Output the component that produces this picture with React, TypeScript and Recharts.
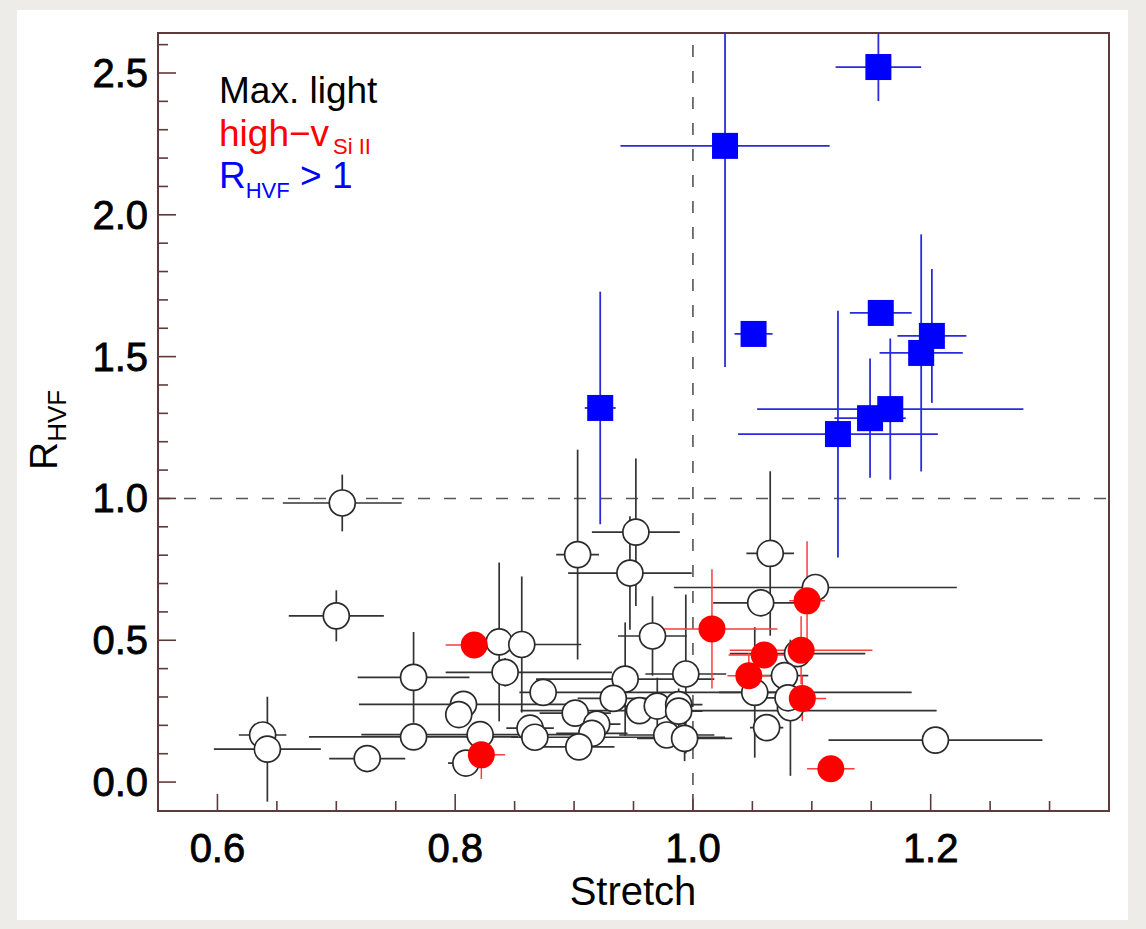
import React from 'react';
import { ScatterChart, Scatter, XAxis, YAxis, ErrorBar, ReferenceLine, ReferenceArea } from 'recharts';

const FRAME = '#5e3b3b';
const FONT = '"Liberation Sans", Arial, Helvetica, sans-serif';

// Max. light sample (open circles)
const maxStretch = [
  0.705, 0.7, 0.765, 0.765, 0.638, 0.642, 0.726, 0.837, 0.856, 0.842, 0.807, 0.803, 0.821, 0.809,
  0.863, 0.867, 0.874, 0.952, 0.947, 0.903, 1.065, 1.103, 1.057, 0.966, 0.943, 0.994, 0.933, 0.901,
  0.919, 0.915, 0.904, 0.955, 0.97, 0.988, 0.988, 0.978, 0.993, 1.052, 1.062, 1.088, 1.077, 1.082,
  1.08, 1.204,
];
const maxR = [
  0.984, 0.586, 0.369, 0.159, 0.166, 0.116, 0.083, 0.494, 0.485, 0.387, 0.274, 0.238, 0.167, 0.067,
  0.19, 0.158, 0.316, 0.881, 0.737, 0.802, 0.806, 0.686, 0.632, 0.515, 0.363, 0.381, 0.295, 0.243,
  0.204, 0.172, 0.124, 0.252, 0.268, 0.273, 0.25, 0.166, 0.154, 0.316, 0.192, 0.453, 0.375, 0.262,
  0.297, 0.148,
];
const maxStretchErr: (number | number[])[] = [
  0.05, 0.04, 0.047, 0.088, 0.02, 0.045, 0.032, 0.01, 0.05, [0.05, 0.09], 0.088, 0.01, 0.1, 0.015,
  0.02, [0.02, 0.16], [0.02, 0.31], 0.037, 0.052, 0.018, 0.02, 0.119, 0.04, 0.029, 0.075, 0.034, 0.03, 0.03,
  0.02, 0.03, 0.03, [0.1, 0.25], 0.03, 0.02, 0.02, 0.04, 0.04, 0.03, 0.014, 0.057, 0.02, 0.01,
  0.02, 0.09,
];
const maxRErr = [
  0.1, 0.09, 0.16, 0, 0, 0.185, 0, 0.28, 0.24, 0.05, 0, 0, 0, 0.02,
  0, 0, 0.03, 0.26, 0.2, 0.37, 0.29, 0, 0, 0.14, 0.2, 0.28, 0, 0,
  0, 0, 0, 0, 0.1, 0, 0.08, 0, 0.08, 0.23, 0, 0, 0, 0.24,
  0, 0,
];

// high-v Si II sample (red filled circles)
const hvStretch = [1.016, 1.096, 1.06, 1.091, 1.047, 1.092, 1.116, 0.816, 0.822];
const hvR = [0.54, 0.639, 0.448, 0.465, 0.375, 0.295, 0.047, 0.483, 0.096];
const hvStretchErr = [0.055, 0.015, 0.03, 0.06, 0.018, 0.02, 0.02, 0.024, 0.02];
const hvRErr = [0.21, 0.21, 0.04, 0.12, 0.08, 0.08, 0, 0, 0.085];

// R_HVF > 1 sample (blue squares)
const hiStretch = [0.922, 1.027, 1.156, 1.051, 1.158, 1.201, 1.192, 1.166, 1.149, 1.122];
const hiR = [1.319, 2.243, 2.521, 1.58, 1.654, 1.573, 1.513, 1.315, 1.283, 1.227];
const hiStretchErr = [0.013, 0.088, 0.036, 0.016, 0.026, 0.029, 0.035, 0.112, 0.03, 0.084];
const hiRErr: (number | number[])[] = [0.41, [0.78, 0.4], 0.12, 0.02, 0.02, 0.236, 0.418, 0.249, 0.21, 0.435];

const xDomain = [0.55, 1.35];
const yDomain = [-0.102, 2.641];
const xTicks = [0.6, 0.65, 0.7, 0.75, 0.8, 0.85, 0.9, 0.95, 1.0, 1.05, 1.1, 1.15, 1.2, 1.25, 1.3];
const yTicks = [
  0, 0.1, 0.2, 0.3, 0.4, 0.5, 0.6, 0.7, 0.8, 0.9, 1.0, 1.1, 1.2, 1.3, 1.4, 1.5, 1.6, 1.7, 1.8,
  1.9, 2.0, 2.1, 2.2, 2.3, 2.4, 2.5, 2.6,
];

const build = (s: number[], r: number[], es: any[], er: any[]) =>
  s.map((v, i) => ({ s: v, r: r[i], es: es[i], er: er[i] }));

const maxData = build(maxStretch, maxR, maxStretchErr, maxRErr);
const hvData = build(hvStretch, hvR, hvStretchErr, hvRErr);
const hiData = build(hiStretch, hiR, hiStretchErr, hiRErr);

const isMajorX = (v: number) => Math.abs(v * 5 - Math.round(v * 5)) < 1e-6;
const isMajorY = (v: number) => Math.abs(v * 2 - Math.round(v * 2)) < 1e-6;

const BottomTick = (props: any) => {
  const { x, y, payload } = props;
  const major = isMajorX(payload.value);
  return (
    <g>
      <line x1={x} x2={x} y1={y} y2={y - (major ? 17 : 10)} stroke={FRAME} strokeWidth={1.6} />
      {major && (
        <text x={x} y={y + 51} textAnchor="middle" fontSize={40} fontFamily={FONT} fill="#000" stroke="#000" strokeWidth={0.8}>
          {payload.value.toFixed(1)}
        </text>
      )}
    </g>
  );
};

const TopTick = (props: any) => {
  const { x, y, payload } = props;
  const major = isMajorX(payload.value);
  return <line x1={x} x2={x} y1={y} y2={y + (major ? 17 : 10)} stroke={FRAME} strokeWidth={1.6} />;
};

const LeftTick = (props: any) => {
  const { x, y, payload } = props;
  const major = isMajorY(payload.value);
  return (
    <g>
      <line x1={x} x2={x + (major ? 18 : 10)} y1={y} y2={y} stroke={FRAME} strokeWidth={1.6} />
      {major && (
        <text x={x - 10} y={y + 14} textAnchor="end" fontSize={40} fontFamily={FONT} fill="#000" stroke="#000" strokeWidth={0.8}>
          {payload.value.toFixed(1)}
        </text>
      )}
    </g>
  );
};

const RightTick = (props: any) => {
  const { x, y, payload } = props;
  const major = isMajorY(payload.value);
  return <line x1={x} x2={x - (major ? 18 : 10)} y1={y} y2={y} stroke={FRAME} strokeWidth={1.6} />;
};

const OpenCircle = (props: any) => (
  <circle cx={props.cx} cy={props.cy} r={13} fill="#fff" stroke="#2a2a2a" strokeWidth={1.7} />
);
const RedDot = (props: any) => <circle cx={props.cx} cy={props.cy} r={13.5} fill="#ff0000" />;
const BlueSquare = (props: any) => (
  <rect x={props.cx - 13} y={props.cy - 13} width={26} height={26} fill="#0000ff" />
);

const App = () => {
  return (
    <div style={{ position: 'absolute', left: 0, top: 0, width: 1146, height: 929, background: '#eeece9' }}>
      <div style={{ position: 'absolute', left: 17, top: 10, width: 1111, height: 910, background: '#fff' }} />
      <div style={{ position: 'absolute', left: 0, top: 0 }}>
        <ScatterChart width={1146} height={929} margin={{ top: 33, right: 37, bottom: 38, left: 58 }}>
          <XAxis
            xAxisId="b"
            type="number"
            dataKey="s"
            orientation="bottom"
            domain={xDomain}
            allowDataOverflow
            ticks={xTicks}
            interval={0}
            tickSize={0}
            tickMargin={0}
            tickLine={false}
            tick={<BottomTick />}
            height={80}
            axisLine={{ stroke: FRAME, strokeWidth: 2 }}
          />
          <XAxis
            xAxisId="t"
            type="number"
            orientation="top"
            domain={xDomain}
            allowDataOverflow
            ticks={xTicks}
            interval={0}
            tickSize={0}
            tickMargin={0}
            tickLine={false}
            tick={<TopTick />}
            height={0}
            axisLine={{ stroke: FRAME, strokeWidth: 2 }}
          />
          <YAxis
            yAxisId="l"
            type="number"
            dataKey="r"
            orientation="left"
            domain={yDomain}
            allowDataOverflow
            ticks={yTicks}
            interval={0}
            tickSize={0}
            tickMargin={0}
            tickLine={false}
            tick={<LeftTick />}
            width={100}
            axisLine={{ stroke: FRAME, strokeWidth: 2 }}
          />
          <YAxis
            yAxisId="r"
            type="number"
            orientation="right"
            domain={yDomain}
            allowDataOverflow
            ticks={yTicks}
            interval={0}
            tickSize={0}
            tickMargin={0}
            tickLine={false}
            tick={<RightTick />}
            width={0}
            axisLine={{ stroke: FRAME, strokeWidth: 2 }}
          />
          <ReferenceArea
            xAxisId="b"
            yAxisId="l"
            x1={xDomain[0]}
            x2={xDomain[1]}
            y1={yDomain[0]}
            y2={yDomain[1]}
            fill="none"
            fillOpacity={0}
            stroke={FRAME}
            strokeWidth={2}
            ifOverflow="visible"
          />
          <ReferenceLine xAxisId="b" yAxisId="l" x={1} stroke="#555" strokeWidth={1.6} strokeDasharray="12 14" />
          <ReferenceLine xAxisId="b" yAxisId="l" y={1} stroke="#555" strokeWidth={1.6} strokeDasharray="12 14" />
          <Scatter xAxisId="b" yAxisId="l" data={maxData} shape={OpenCircle} isAnimationActive={false}>
            <ErrorBar dataKey="es" direction="x" width={0} stroke="#333" strokeWidth={1.7} />
            <ErrorBar dataKey="er" direction="y" width={0} stroke="#333" strokeWidth={1.7} />
          </Scatter>
          <Scatter xAxisId="b" yAxisId="l" data={hvData} shape={RedDot} isAnimationActive={false}>
            <ErrorBar dataKey="es" direction="x" width={0} stroke="#ff3b3b" strokeWidth={1.5} />
            <ErrorBar dataKey="er" direction="y" width={0} stroke="#ff3b3b" strokeWidth={1.5} />
          </Scatter>
          <Scatter xAxisId="b" yAxisId="l" data={hiData} shape={BlueSquare} isAnimationActive={false}>
            <ErrorBar dataKey="es" direction="x" width={0} stroke="#2b2bdc" strokeWidth={1.8} />
            <ErrorBar dataKey="er" direction="y" width={0} stroke="#2b2bdc" strokeWidth={1.8} />
          </Scatter>
        </ScatterChart>
      </div>
      <svg
        width={1146}
        height={929}
        style={{ position: 'absolute', left: 0, top: 0, pointerEvents: 'none' }}
        fontFamily={FONT}
      >
        <text x={219} y={103} fontSize={37} fill="#000">Max. light</text>
        <text x={219} y={146} fontSize={37} fill="#ff0000">
          high−v<tspan fontSize={22} dy={8} dx={4}>Si II</tspan>
        </text>
        <text x={219} y={188} fontSize={37} fill="#0000ff">
          R<tspan fontSize={22} dy={10}>HVF</tspan>
          <tspan fontSize={37} dy={-10}> &gt; 1</tspan>
        </text>
        <text transform="translate(57, 470) rotate(-90)" fontSize={39} fill="#000">
          R<tspan fontSize={26} dy={9}>HVF</tspan>
        </text>
        <text x={633} y={905} textAnchor="middle" fontSize={40} fill="#000">Stretch</text>
      </svg>
    </div>
  );
};

export default App;
